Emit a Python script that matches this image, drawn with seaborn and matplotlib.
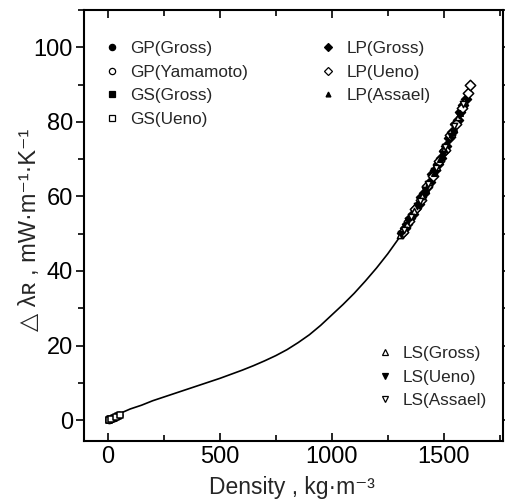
import numpy as np
import pandas as pd
import matplotlib
matplotlib.use("Agg")
import matplotlib.pyplot as plt
import seaborn as sns
from matplotlib.lines import Line2D
from matplotlib.ticker import MultipleLocator

# ---- data ----
curve_rho = [0, 25, 50, 100, 150, 200, 250, 300, 350, 400, 450, 500, 550, 600, 650, 700, 750,
             800, 850, 900, 950, 1000, 1050, 1100, 1150, 1200, 1250, 1300, 1350, 1400, 1450,
             1500, 1550, 1600, 1620]
curve_lam = [0, 0.8, 1.7, 3.0, 4.0, 5.2, 6.2, 7.2, 8.2, 9.2, 10.2, 11.2, 12.3, 13.4, 14.6, 15.9, 17.3,
             18.9, 20.8, 22.9, 25.4, 28.2, 31.0, 34.0, 37.3, 40.8, 44.6, 48.8, 53.4, 58.6, 64.4,
             71.0, 78.5, 87.0, 90.3]

gp_gross_rho = [5, 12, 20, 30, 40, 50]
gp_gross_lam = [0.1, 0.3, 0.5, 0.8, 1.1, 1.4]
gp_yama_rho = [8, 18, 28, 38, 48]
gp_yama_lam = [0.2, 0.5, 0.7, 1.0, 1.3]
gs_gross_rho = [3, 10, 25, 45]
gs_gross_lam = [0.05, 0.25, 0.6, 1.2]
gs_ueno_rho = [6, 15, 35, 55]
gs_ueno_lam = [0.15, 0.4, 0.9, 1.5]

lp_gross_rho = [1312, 1325, 1338, 1350, 1362, 1375, 1388, 1400, 1412, 1425, 1438, 1450,
                1462, 1475, 1488, 1500, 1512, 1525, 1538, 1550, 1562, 1575, 1588, 1598]
lp_gross_lam = [50.3, 51.4, 52.6, 54.2, 55.3, 56.9, 58.1, 59.8, 60.9, 62.6, 64.0, 65.9,
                67.1, 68.8, 70.2, 72.3, 73.6, 75.6, 77.2, 79.3, 80.6, 82.6, 84.5, 86.1]
lp_ueno_rho = [1318, 1345, 1372, 1398, 1425, 1452, 1478, 1505, 1530, 1556, 1582, 1607, 1616]
lp_ueno_lam = [50.5, 53.3, 56.7, 59.0, 62.9, 65.6, 69.5, 72.4, 76.5, 79.5, 83.7, 87.8, 89.9]
lp_assael_rho = [1330, 1360, 1390, 1420, 1455, 1485, 1515, 1545, 1575]
lp_assael_lam = [52.2, 55.0, 58.6, 62.0, 66.3, 70.0, 74.1, 78.4, 82.5]
ls_gross_rho = [1305, 1335, 1368, 1402, 1436, 1468, 1502, 1535, 1566, 1592]
ls_gross_lam = [49.6, 52.7, 56.1, 60.0, 63.9, 67.9, 72.6, 76.7, 81.2, 85.5]
ls_ueno_rho = [1308, 1340, 1380, 1418, 1458, 1495, 1532, 1570]
ls_ueno_lam = [49.9, 53.5, 57.5, 61.8, 66.9, 71.3, 76.2, 81.8]
ls_assael_rho = [1322, 1356, 1392, 1430, 1466, 1508, 1548, 1585]
ls_assael_lam = [51.0, 54.6, 58.8, 63.2, 67.5, 73.2, 78.9, 84.8]

legend1 = ["GP(Gross)", "GP(Yamamoto)", "GS(Gross)", "GS(Ueno)"]
legend2 = ["LP(Gross)", "LP(Ueno)", "LP(Assael)"]
legend3 = ["LS(Gross)", "LS(Ueno)", "LS(Assael)"]

# ---- style ----
sns.set_style("ticks")
plt.rcParams["font.family"] = ["Liberation Sans", "DejaVu Sans"]

fig = plt.figure(figsize=(5.05, 5.04), dpi=100)
ax = fig.add_axes([84 / 505, 1 - 441 / 504, (503 - 84) / 505, (441 - 10) / 504])

sns.lineplot(x=curve_rho, y=curve_lam, ax=ax, color="black", lw=1.2, sort=False)

series = [
    (gp_gross_rho, gp_gross_lam, "o", True, 20),
    (gp_yama_rho, gp_yama_lam, "o", False, 20),
    (gs_gross_rho, gs_gross_lam, "s", True, 18),
    (gs_ueno_rho, gs_ueno_lam, "s", False, 18),
    (lp_gross_rho, lp_gross_lam, "D", True, 26),
    (lp_ueno_rho, lp_ueno_lam, "D", False, 28),
    (lp_assael_rho, lp_assael_lam, "^", True, 16),
    (ls_gross_rho, ls_gross_lam, "^", False, 20),
    (ls_ueno_rho, ls_ueno_lam, "v", True, 20),
    (ls_assael_rho, ls_assael_lam, "v", False, 20),
]
for xs, ys, m, filled, s in series:
    sns.scatterplot(x=xs, y=ys, ax=ax, marker=m, s=s,
                    color="black" if filled else "white",
                    edgecolor="black", linewidth=1.1, zorder=3)

ax.set_xlim(-107, 1765)
ax.set_ylim(-5.6, 110)
ax.set_xticks([0, 500, 1000, 1500])
ax.xaxis.set_minor_locator(MultipleLocator(250))
ax.set_yticks([0, 20, 40, 60, 80, 100])
ax.yaxis.set_minor_locator(MultipleLocator(10))
ax.tick_params(axis="both", which="both", top=True, right=True, direction="in",
               width=1.2, labelsize=17, colors="black")
ax.tick_params(axis="both", which="major", length=6)
ax.tick_params(axis="both", which="minor", length=4)
ax.tick_params(axis="y", which="both", direction="out", pad=2)
for sp in ax.spines.values():
    sp.set_linewidth(1.5)
    sp.set_color("black")

ax.set_xlabel("Density , kg·m⁻³", fontsize=16.5)
ax.set_ylabel("△ λʀ , mW·m⁻¹·K⁻¹", fontsize=17)
ax.xaxis.set_label_coords(0.496, -0.109)
ax.xaxis.label.set_va("center")
ax.yaxis.set_label_coords(-0.129, 0.49)
ax.yaxis.label.set_va("center")

def handle(m, filled, ms):
    return Line2D([], [], ls="none", marker=m, markersize=ms,
                  markerfacecolor="black" if filled else "white",
                  markeredgecolor="black", markeredgewidth=0.9)

h1 = [handle("o", True, 4.5), handle("o", False, 4.5), handle("s", True, 4), handle("s", False, 4)]
h2 = [handle("D", True, 4), handle("D", False, 4.5), handle("^", True, 3.5)]
h3 = [handle("^", False, 4), handle("v", True, 4), handle("v", False, 4)]

kw = dict(frameon=False, fontsize=12.3, handlelength=0.6, handletextpad=0.75,
          labelspacing=0.5, borderpad=0, borderaxespad=0)
leg1 = ax.legend(h1, legend1, loc="upper left", bbox_to_anchor=(0.055, 0.928), **kw)
ax.add_artist(leg1)
leg2 = ax.legend(h2, legend2, loc="upper left", bbox_to_anchor=(0.571, 0.928), **kw)
ax.add_artist(leg2)
leg3 = ax.legend(h3, legend3, loc="upper left", bbox_to_anchor=(0.705, 0.22), **kw)

fig.savefig("out.png", dpi=100, facecolor="white")
